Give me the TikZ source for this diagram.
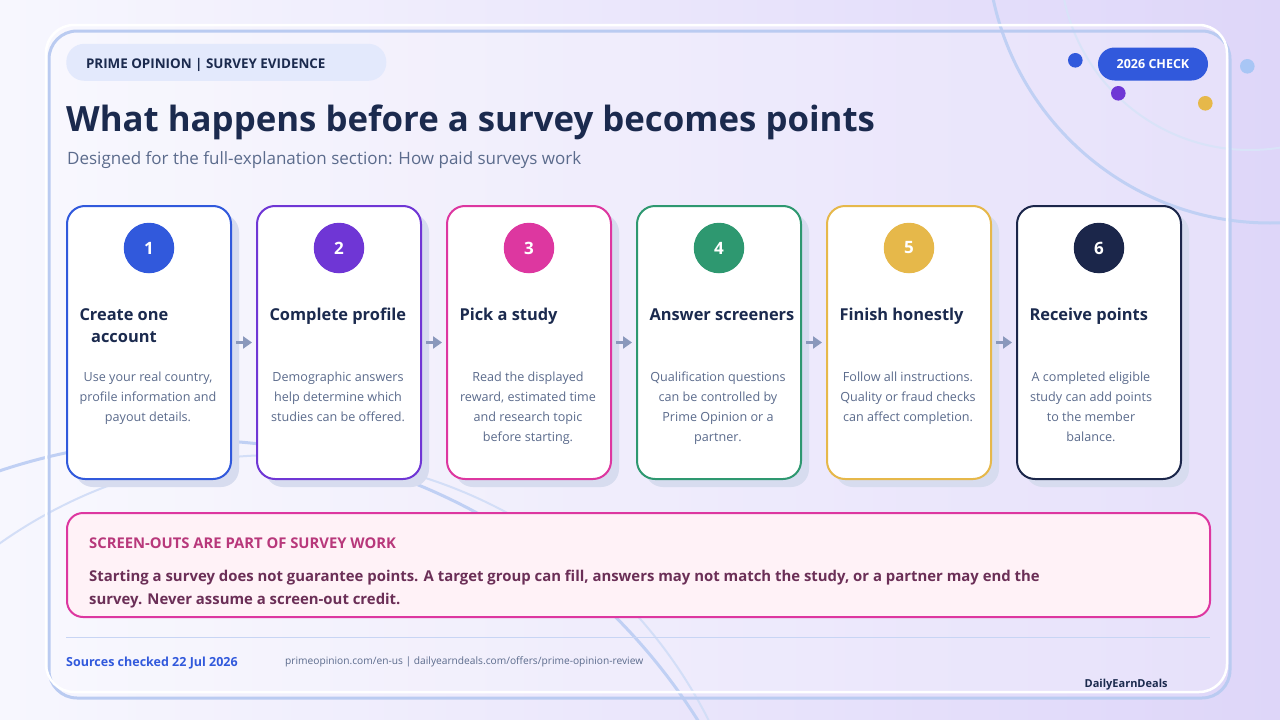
\documentclass[tikz,border=0pt]{standalone}
\usepackage{fontspec}
\setmainfont{Open Sans}
\usetikzlibrary{positioning,shadows,arrows.meta}

\definecolor{navy}{HTML}{1B2A4E}
\definecolor{slate}{HTML}{5B6B8C}
\definecolor{stepblue}{HTML}{3159DC}
\definecolor{steppurple}{HTML}{6F36D5}
\definecolor{steppink}{HTML}{DD37A0}
\definecolor{stepgreen}{HTML}{2E9870}
\definecolor{stepgold}{HTML}{E6B84A}
\definecolor{stepnavy}{HTML}{1B264A}
\definecolor{cardshadow}{HTML}{D7DCEF}
\definecolor{frameblue}{HTML}{BACBF1}
\definecolor{calloutfill}{HTML}{FFF2F7}
\definecolor{callouthead}{HTML}{B8387B}
\definecolor{calloutbody}{HTML}{6B2F57}
\definecolor{arrowgray}{HTML}{8A98BC}
\definecolor{pillfill}{HTML}{E3E9FC}
\definecolor{ringblue}{HTML}{C0D0F4}
\definecolor{dotsky}{HTML}{A8C6F5}
\definecolor{bgleft}{HTML}{F7F7FE}
\definecolor{bgright}{HTML}{DED6F9}

\begin{document}
\begin{tikzpicture}[x=1pt,y=-1pt,
    card/.style={draw=#1,line width=2pt,fill=white,rounded corners=18pt,
      minimum width=164pt,minimum height=273pt,
      general shadow={draw=none,fill=cardshadow,shadow xshift=8pt,shadow yshift=-8pt}},
    num node/.style={circle,fill=#1,minimum size=50.5pt,inner sep=0pt,text=white,
      font=\fontsize{17}{20}\selectfont\bfseries},
    card title/.style={anchor=base west,align=center,inner sep=0pt,text=navy,
      font=\fontsize{16.4}{22}\selectfont\bfseries},
    card text/.style={anchor=north,align=center,inner sep=0pt,text=slate,
      font=\fontsize{12.6}{20}\selectfont},
    flow/.style={-{Triangle[length=9pt,width=12pt]},line width=3.5pt,draw=arrowgray,
      shorten <=4pt,shorten >=4pt},
    ring/.style={draw=ringblue,line width=#1},
    dot/.style={circle,fill=#1,minimum size=14.6pt,inner sep=0pt}
  ]
  \useasboundingbox (0,0) rectangle (1280,720);
  \shade[left color=bgleft,right color=bgright] (0,0) rectangle (1280,720);
  \fill[white,opacity=.25,rounded corners=28pt] (46,25) rectangle (1227,692);

  % background rings
  \begin{scope}
    \clip (0,0) rectangle (1280,720);
    \draw[ring=3pt] (190,1040) circle[radius=600pt];
    \draw[ring=2pt,draw=ringblue!70] (278,937) circle[radius=482pt];
    \draw[ring=3pt] (1270,-60) circle[radius=283pt];
    \draw[ring=2pt,draw=ringblue!60] (1250,-40) circle[radius=190pt];
  \end{scope}

  % frame
  \draw[frameblue,line width=3pt,rounded corners=28pt] (49,31) rectangle (1230,698);
  \draw[white,line width=2.5pt,rounded corners=28pt] (46,25) rectangle (1227,692);

  % header
  \node[fill=pillfill,rounded corners=18pt,minimum width=320pt,minimum height=37pt] (pill) at (226.3,62.3) {};
  \node[anchor=base west,inner sep=0pt,text=navy,font=\fontsize{13.4}{15}\selectfont\bfseries]
    (kicker) at ([xshift=19.7pt,yshift=-6pt]pill.west) {PRIME OPINION | SURVEY EVIDENCE};
  \node[anchor=base west,inner sep=0pt,text=navy,font=\fontsize{34.8}{38}\selectfont\bfseries]
    (title) at (66,131) {What happens before a survey becomes points};
  \node[anchor=base west,inner sep=0pt,text=slate,font=\fontsize{17}{20}\selectfont]
    (subtitle) at (67,164.3) {Designed for the full-explanation section: How paid surveys work};

  \node[fill=stepblue,rounded corners=16.5pt,minimum width=110pt,minimum height=33pt,
    text=white,font=\fontsize{12.5}{15}\selectfont\bfseries] (badge) at (1153,64) {2026 CHECK};
  \node[dot=stepblue] (dot1) at (1075.3,60.3) {};
  \node[dot=steppurple] (dot2) at (1118.3,93.3) {};
  \node[dot=stepgold] (dot3) at (1205.3,103.3) {};
  \node[dot=dotsky] (dot4) at (1247.3,66.3) {};

  % steps
  \node[card=stepblue] (c1) at (149,342.5) {};
  \node[card=steppurple,right=24pt of c1] (c2) {};
  \node[card=steppink,right=24pt of c2] (c3) {};
  \node[card=stepgreen,right=24pt of c3] (c4) {};
  \node[card=stepgold,right=24pt of c4] (c5) {};
  \node[card=stepnavy,right=24pt of c5] (c6) {};

  \node[num node=stepblue] (n1) at ([yshift=-43pt]c1.north) {1};
  \node[num node=steppurple] (n2) at ([yshift=-43pt]c2.north) {2};
  \node[num node=steppink] (n3) at ([yshift=-43pt]c3.north) {3};
  \node[num node=stepgreen] (n4) at ([yshift=-43pt]c4.north) {4};
  \node[num node=stepgold] (n5) at ([yshift=-43pt]c5.north) {5};
  \node[num node=stepnavy] (n6) at ([yshift=-43pt]c6.north) {6};

  \node[card title] (t1) at ([xshift=13.3pt,yshift=-137.7pt]c1.north west) {Create one\\account};
  \node[card title] (t2) at ([xshift=13.3pt,yshift=-115.7pt]c2.north west) {Complete profile};
  \node[card title] (t3) at ([xshift=13.3pt,yshift=-115.7pt]c3.north west) {Pick a study};
  \node[card title] (t4) at ([xshift=13.3pt,yshift=-115.7pt]c4.north west) {Answer screeners};
  \node[card title] (t5) at ([xshift=13.3pt,yshift=-115.7pt]c5.north west) {Finish honestly};
  \node[card title] (t6) at ([xshift=13.3pt,yshift=-115.7pt]c6.north west) {Receive points};

  \node[card text] (d1) at ([xshift=-1pt,yshift=-167pt]c1.north) {Use your real country,\\profile information and\\payout details.};
  \node[card text] (d2) at ([xshift=-1pt,yshift=-167pt]c2.north) {Demographic answers\\help determine which\\studies can be offered.};
  \node[card text] (d3) at ([xshift=-1pt,yshift=-167pt]c3.north) {Read the displayed\\reward, estimated time\\and research topic\\before starting.};
  \node[card text] (d4) at ([xshift=-1pt,yshift=-167pt]c4.north) {Qualification questions\\can be controlled by\\Prime Opinion or a\\partner.};
  \node[card text] (d5) at ([xshift=-1pt,yshift=-167pt]c5.north) {Follow all instructions.\\Quality or fraud checks\\can affect completion.};
  \node[card text] (d6) at ([xshift=-8pt,yshift=-167pt]c6.north) {A completed eligible\\study can add points\\to the member\\balance.};

  \draw[flow] (c1) -- (c2);
  \draw[flow] (c2) -- (c3);
  \draw[flow] (c3) -- (c4);
  \draw[flow] (c4) -- (c5);
  \draw[flow] (c5) -- (c6);

  % screen-out note
  \node[draw=steppink,line width=2pt,fill=calloutfill,rounded corners=16pt,
    minimum width=1143pt,minimum height=104pt] (callout) at (638.5,565) {};
  \node[anchor=base west,inner sep=0pt,text=callouthead,font=\fontsize{14.8}{16}\selectfont\bfseries]
    (warnhead) at ([xshift=23pt,yshift=-36.3pt]callout.north west) {SCREEN-OUTS ARE PART OF SURVEY WORK};
  \node[anchor=base west,align=left,inner sep=0pt,text=calloutbody,font=\fontsize{14.9}{23}\selectfont\bfseries]
    (warnbody) at ([xshift=23pt,yshift=-92pt]callout.north west)
    {Starting a survey does not guarantee points. A target group can fill, answers may not match the study, or a partner may end the\\survey. Never assume a screen-out credit.};

  % footer
  \draw[frameblue!80,line width=1.5pt] (66,637.7) -- (1210,637.7);
  \node[anchor=base west,inner sep=0pt,text=stepblue,font=\fontsize{12.5}{14}\selectfont\bfseries]
    (checked) at (66,666.7) {Sources checked 22 Jul 2026};
  \node[anchor=base west,inner sep=0pt,text=slate,font=\fontsize{10.2}{12}\selectfont]
    (sources) at (285,664.3) {primeopinion.com/en-us | dailyearndeals.com/offers/prime-opinion-review};
  \node[anchor=base west,inner sep=0pt,text=navy,font=\fontsize{11}{13}\selectfont\bfseries]
    (brand) at (1084.5,687.7) {DailyEarnDeals};
\end{tikzpicture}
\end{document}
